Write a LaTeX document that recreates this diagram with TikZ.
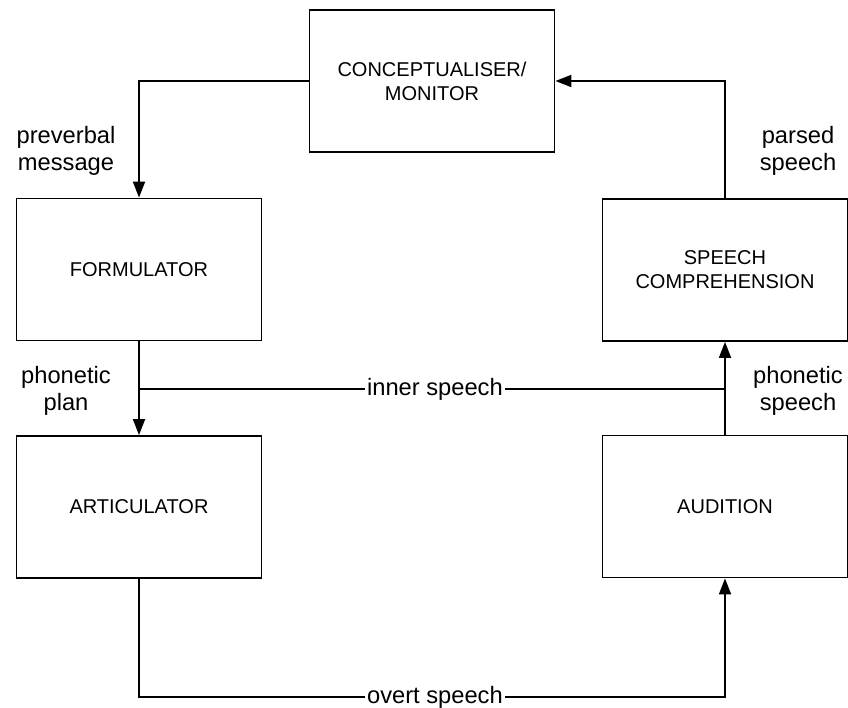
\documentclass[tikz,border=0pt]{standalone}
\usepackage{fontspec}
\setmainfont{Liberation Sans}
\usetikzlibrary{arrows.meta}
\begin{document}
\begin{tikzpicture}[x=1pt,y=-1pt,
 box/.style={draw, line width=1.8pt, minimum width=245pt, minimum height=142pt, inner sep=0pt, align=center, font=\fontsize{20}{24}\selectfont},
 lbl/.style={align=center, font=\fontsize{23.7}{27.5}\selectfont, inner sep=0pt},
 conn/.style={line width=1.8pt},
 arr/.style={conn, -{Triangle[length=16pt,width=12pt]}},
 cut/.style={lbl, fill=white, inner xsep=2.5pt, inner ysep=1pt, pos=0.505}]
\useasboundingbox (0,0) rectangle (848,707);
\node[box] (concept) at (432,81) {CONCEPTUALISER/\\MONITOR};
\node[box] (form) at (139,269.5) {FORMULATOR};
\node[box] (artic) at (139,507) {ARTICULATOR};
\node[box] (comp) at (725,270) {SPEECH\\COMPREHENSION};
\node[box] (aud) at (725,506.5) {AUDITION};
\draw[arr] (concept.west) -| (form.north);
\draw[arr] (comp.north) |- (concept.east);
\draw[arr] (form.south) -- (artic.north);
\draw[arr] (aud.north) -- (comp.south);
\coordinate (innerL) at (form.south |- 0,389);
\coordinate (innerR) at (comp.south |- 0,389);
\draw[conn] (innerL) -- node[cut] (inner) {inner speech} (innerR);
\coordinate (overtL) at (artic.south |- 0,697);
\coordinate (overtR) at (aud.south |- 0,697);
\draw[arr] (artic.south) -- (overtL) -- node[cut] (overt) {overt speech} (overtR) -- (aud.south);
\node[lbl] (pm) at (66,151) {preverbal\\message};
\node[lbl] (ps) at (798,151) {parsed\\speech};
\node[lbl] (pp) at (66,391) {phonetic\\plan};
\node[lbl] (phs) at (798,391) {phonetic\\speech};
\end{tikzpicture}
\end{document}
